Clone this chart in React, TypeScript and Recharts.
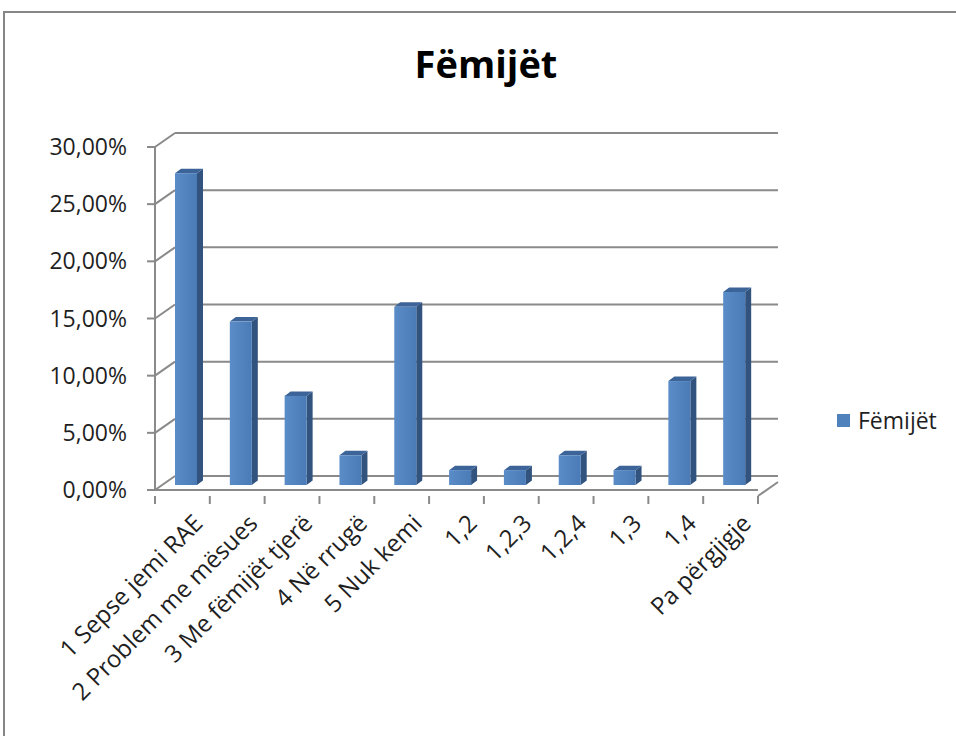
import React from 'react';
import { BarChart, Bar, XAxis, YAxis, CartesianGrid, Legend } from 'recharts';

const categories = [
  '1 Sepse jemi RAE',
  '2 Problem me mësues',
  '3 Me fëmijët tjerë',
  '4 Në rrugë',
  '5 Nuk kemi',
  '1,2',
  '1,2,3',
  '1,2,4',
  '1,3',
  '1,4',
  'Pa përgjigje',
];
const values = [27.27, 14.29, 7.79, 2.6, 15.58, 1.3, 1.3, 2.6, 1.3, 9.09, 16.88];
const yTicks = [0, 5, 10, 15, 20, 25, 30];
const seriesName = 'Fëmijët';
const chartTitle = 'Fëmijët';

const data = categories.map((name, i) => ({ name, value: values[i] }));

const DX = 20;
const DY = -14;
const BAR_OX = 4;
const BAR_OY = -5;
const BAR_D = 6;
const BAR_DY = -4.5;
const GRID = '#8a8a8a';
const FONT = "'Open Sans', 'DejaVu Sans', sans-serif";

const fmt = (v: number) => v.toFixed(2).replace('.', ',') + '%';

const Bar3D = (props: any) => {
  const { x, y, width, height } = props;
  if (x == null || y == null || !height) return null;
  const fx = x + BAR_OX;
  const fy = y + BAR_OY;
  const w = width;
  const h = height;
  return (
    <g>
      <polygon
        points={`${fx + w},${fy} ${fx + w + BAR_D},${fy + BAR_DY} ${fx + w + BAR_D},${fy + h + BAR_DY} ${fx + w},${fy + h}`}
        fill="#31537e"
      />
      <polygon
        points={`${fx},${fy} ${fx + BAR_D},${fy + BAR_DY} ${fx + w + BAR_D},${fy + BAR_DY} ${fx + w},${fy}`}
        fill="#3c6499"
      />
      <rect x={fx} y={fy} width={w} height={h} fill="url(#frontGrad)" />
    </g>
  );
};

const gridLine = (p: any) => {
  const { x1, y1, x2, y2 } = p;
  return (
    <g key={p.key ?? `g-${y1}`}>
      <line x1={x1} y1={y1} x2={x1 + DX} y2={y1 + DY} stroke={GRID} strokeWidth={2} />
      <line x1={x1 + DX} y1={y1 + DY} x2={x2 + DX} y2={y2 + DY} stroke={GRID} strokeWidth={2} />
    </g>
  );
};

const XTick = (props: any) => {
  const { x, y, payload, index } = props;
  const half = payload && payload.offset ? payload.offset : 27.4;
  const isLast = index === categories.length - 1;
  const ax = x + 10;
  const ay = y + 17;
  return (
    <g>
      <line x1={x - half} y1={y} x2={x - half} y2={y + 8} stroke={GRID} strokeWidth={2} />
      {isLast && (
        <>
          <line x1={x + half} y1={y} x2={x + half} y2={y + 8} stroke={GRID} strokeWidth={2} />
          <line x1={x + half} y1={y} x2={x + half + DX} y2={y + DY} stroke={GRID} strokeWidth={2} />
        </>
      )}
      <text
        transform={`translate(${ax},${ay}) rotate(-45)`}
        x={0}
        y={0}
        dy="0.7em"
        textAnchor="end"
        fontSize={24}
        fontFamily={FONT}
        fill="#1f1f1f"
      >
        {payload.value}
      </text>
    </g>
  );
};

const LegendContent = () => (
  <div style={{ display: 'flex', alignItems: 'center', height: 40, fontFamily: FONT }}>
    <span style={{ display: 'inline-block', width: 13, height: 13, background: '#4F81BD', marginRight: 8 }} />
    <span style={{ fontSize: 23, lineHeight: 1, color: '#1f1f1f' }}>{seriesName}</span>
  </div>
);

export default function App() {
  return (
    <div style={{ position: 'absolute', left: 0, top: 0, width: 956, height: 736, overflow: 'hidden', background: '#fff' }}>
      <div
        style={{
          position: 'absolute',
          left: 3,
          top: 11,
          width: 953,
          height: 725,
          boxSizing: 'border-box',
          borderTop: '2px solid #868686',
          borderLeft: '2px solid #868686',
        }}
      />
      <div
        style={{
          position: 'absolute',
          left: 0,
          top: 44,
          width: 972,
          textAlign: 'center',
          fontFamily: FONT,
          fontWeight: 700,
          fontSize: 38,
          lineHeight: '38px',
          color: '#000',
        }}
      >
        {chartTitle}
      </div>
      <div style={{ position: 'absolute', left: 0, top: 0 }}>
        <BarChart
          width={956}
          height={736}
          data={data}
          margin={{ top: 147, right: 198, bottom: 46, left: 0 }}
          barSize={22}
        >
          <defs>
            <linearGradient id="frontGrad" x1="0" y1="0" x2="1" y2="0">
              <stop offset="0%" stopColor="#5a8cc8" />
              <stop offset="100%" stopColor="#4a7bb7" />
            </linearGradient>
          </defs>
          <CartesianGrid vertical={false} horizontal={gridLine} />
          <XAxis
            dataKey="name"
            interval={0}
            height={200}
            tickLine={false}
            tickMargin={0}
            axisLine={{ stroke: GRID, strokeWidth: 2 }}
            tick={(p: any) => <XTick {...p} />}
          />
          <YAxis
            domain={[0, 30]}
            ticks={yTicks}
            interval={0}
            width={155}
            tickSize={8}
            tickMargin={20}
            axisLine={{ stroke: GRID, strokeWidth: 2 }}
            tickLine={{ stroke: GRID, strokeWidth: 2 }}
            tick={{ fontSize: 23, fontFamily: FONT, fill: '#1f1f1f' }}
            tickFormatter={fmt}
          />
          <Legend
            layout="vertical"
            align="center"
            verticalAlign="middle"
            wrapperStyle={{ left: 837, top: 400, width: 119 }}
            content={() => <LegendContent />}
          />
          <Bar
            dataKey="value"
            name={seriesName}
            fill="#4F81BD"
            isAnimationActive={false}
            shape={(p: any) => <Bar3D {...p} />}
          />
        </BarChart>
      </div>
    </div>
  );
}
